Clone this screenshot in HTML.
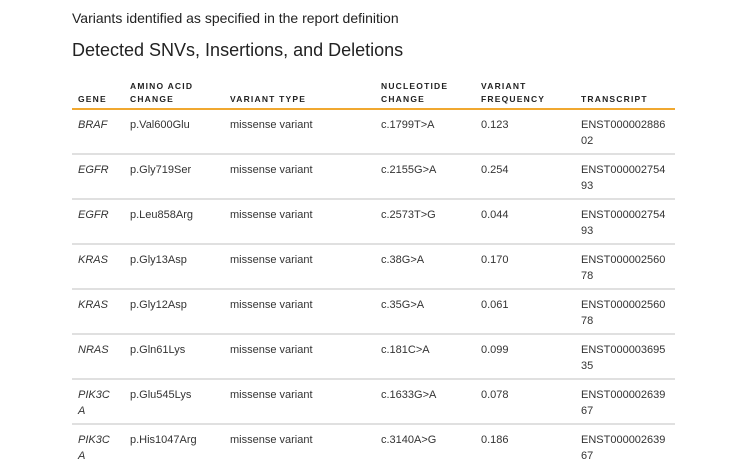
<!DOCTYPE html>
<html><head><style>
body{margin:0;width:736px;height:475px;background:#fff;font-family:"Liberation Sans",Arial,sans-serif;color:#222;overflow:hidden;position:relative}
.t1{position:absolute;left:72px;top:10px;font-size:14px;color:#222}
.t2{position:absolute;left:72px;top:40px;font-size:18px;color:#222}
.hdr{position:absolute;top:80px;font-size:8.5px;font-weight:bold;letter-spacing:1.2px;line-height:13px;color:#222}
.line{position:absolute;left:72px;width:603px;height:2px;background:#e0e0e0}
.cell{position:absolute;font-size:11px;line-height:16px;color:#333}
i{font-style:italic}
</style></head><body>
<div class="t1">Variants identified as specified in the report definition</div>
<div class="t2">Detected SNVs, Insertions, and Deletions</div>
<div class="hdr" style="left:78px;top:93px">GENE</div>
<div class="hdr" style="left:130px">AMINO ACID<br>CHANGE</div>
<div class="hdr" style="left:230px;top:93px">VARIANT TYPE</div>
<div class="hdr" style="left:381px">NUCLEOTIDE<br>CHANGE</div>
<div class="hdr" style="left:481px">VARIANT<br>FREQUENCY</div>
<div class="hdr" style="left:581px;top:93px">TRANSCRIPT</div>
<div class="line" style="top:108px;background:#f0a830;height:2px"></div>
<div id="rows"></div>
<script>
var d=[["BRAF","p.Val600Glu","c.1799T>A","0.123","ENST000002886<br>02"],
["EGFR","p.Gly719Ser","c.2155G>A","0.254","ENST000002754<br>93"],
["EGFR","p.Leu858Arg","c.2573T>G","0.044","ENST000002754<br>93"],
["KRAS","p.Gly13Asp","c.38G>A","0.170","ENST000002560<br>78"],
["KRAS","p.Gly12Asp","c.35G>A","0.061","ENST000002560<br>78"],
["NRAS","p.Gln61Lys","c.181C>A","0.099","ENST000003695<br>35"],
["PIK3C<br>A","p.Glu545Lys","c.1633G>A","0.078","ENST000002639<br>67"],
["PIK3C<br>A","p.His1047Arg","c.3140A>G","0.186","ENST000002639<br>67"]];
var h="";
for(var i=0;i<d.length;i++){var y=110+i*45;var ty=y+7;
h+='<div class="cell" style="left:78px;top:'+ty+'px"><i>'+d[i][0]+'</i></div>';
h+='<div class="cell" style="left:130px;top:'+ty+'px">'+d[i][1]+'</div>';
h+='<div class="cell" style="left:230px;top:'+ty+'px">missense variant</div>';
h+='<div class="cell" style="left:381px;top:'+ty+'px">'+d[i][2].replace(">","&gt;")+'</div>';
h+='<div class="cell" style="left:481px;top:'+ty+'px">'+d[i][3]+'</div>';
h+='<div class="cell" style="left:581px;top:'+ty+'px">'+d[i][4]+'</div>';
if(i<7)h+='<div class="line" style="top:'+(y+43)+'px"></div>';}
document.getElementById("rows").innerHTML=h;
</script>
</body></html>
